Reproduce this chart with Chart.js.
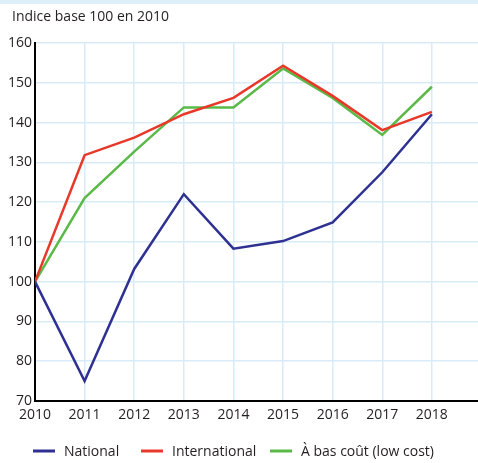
<!DOCTYPE html>
<html><head><meta charset="utf-8">
<script src="https://cdn.jsdelivr.net/npm/chart.js@4/dist/chart.umd.min.js"></script>
<style>html,body{margin:0;padding:0;background:#fff}#wrap{width:478px;height:463px}</style>
</head><body><div id="wrap"><canvas id="c" width="478" height="463"></canvas></div>
<script>
const title = "Indice base 100 en 2010";
const years = [2010, 2011, 2012, 2013, 2014, 2015, 2016, 2017, 2018];
const national = [100, 75, 103.2, 122, 108.3, 110.2, 114.9, 127.5, 142.1];
const international = [100, 131.8, 136.2, 142.1, 146.2, 154.3, 146.7, 138.1, 142.7];
const lowCost = [100, 121, 132.7, 143.8, 143.8, 153.6, 146.2, 136.9, 149];
const seriesNames = ["National", "International", "À bas coût (low cost)"];
const colors = ["#2E3192", "#E8382A", "#5BB947"];
const yTicks = [70, 80, 90, 100, 110, 120, 130, 140, 150, 160];

const FONT = "'Open Sans', sans-serif";
const TEXT = '#231F20';
const toXY = arr => arr.map((v, i) => ({x: years[i], y: v}));
const seriesData = [national, international, lowCost];

const decor = {
  id: 'decor',
  afterDraw(chart) {
    const ctx = chart.ctx;
    ctx.save();
    ctx.fillStyle = '#DDF0FA';
    ctx.fillRect(0, 0, chart.width, 4);
    ctx.fillStyle = TEXT;
    ctx.font = "14px " + FONT;
    ctx.textBaseline = 'middle';
    ctx.textAlign = 'left';
    ctx.fillText(title, 12, 17);
    // legend
    ctx.font = "14px " + FONT;
    const y = 451;
    const xs = [33, 141, 270];
    chart.data.datasets.forEach((ds, i) => {
      ctx.strokeStyle = ds.borderColor;
      ctx.lineWidth = 3;
      ctx.beginPath();
      ctx.moveTo(xs[i], y);
      ctx.lineTo(xs[i] + 22, y);
      ctx.stroke();
      ctx.fillStyle = TEXT;
      ctx.fillText(ds.label, xs[i] + 31, y + 1);
    });
    ctx.restore();
  }
};

new Chart(document.getElementById('c'), {
  type: 'line',
  data: {
    datasets: seriesData.map((d, i) => ({
      label: seriesNames[i],
      data: toXY(d),
      borderColor: colors[i],
      backgroundColor: colors[i],
      borderWidth: 2.5,
      pointRadius: 0,
      tension: 0,
      fill: false
    }))
  },
  options: {
    responsive: false,
    animation: false,
    layout: {padding: {top: 43, left: 0, right: 0, bottom: 42}},
    plugins: {legend: {display: false}, title: {display: false}, tooltip: {enabled: false}},
    scales: {
      x: {
        type: 'linear',
        min: 2010,
        max: 2018.93,
        afterFit(s) { s.height = 20; },
        afterBuildTicks(s) { s.ticks = years.map(v => ({value: v})); },
        ticks: {stepSize: 1, padding: 6, color: TEXT, font: {family: FONT, size: 14}, callback: v => String(v), maxRotation: 0, autoSkip: false},
        grid: {color: '#D8ECF8', lineWidth: 1.5, drawTicks: false},
        border: {color: '#000', width: 2}
      },
      y: {
        min: 70,
        max: 160,
        afterFit(s) { s.width = 35; },
        afterBuildTicks(s) { s.ticks = yTicks.map(v => ({value: v})); },
        ticks: {padding: 3, color: TEXT, font: {family: FONT, size: 14}},
        grid: {color: '#D8ECF8', lineWidth: 1.5, drawTicks: false},
        border: {color: '#000', width: 2}
      }
    }
  },
  plugins: [decor]
});
</script></body></html>
